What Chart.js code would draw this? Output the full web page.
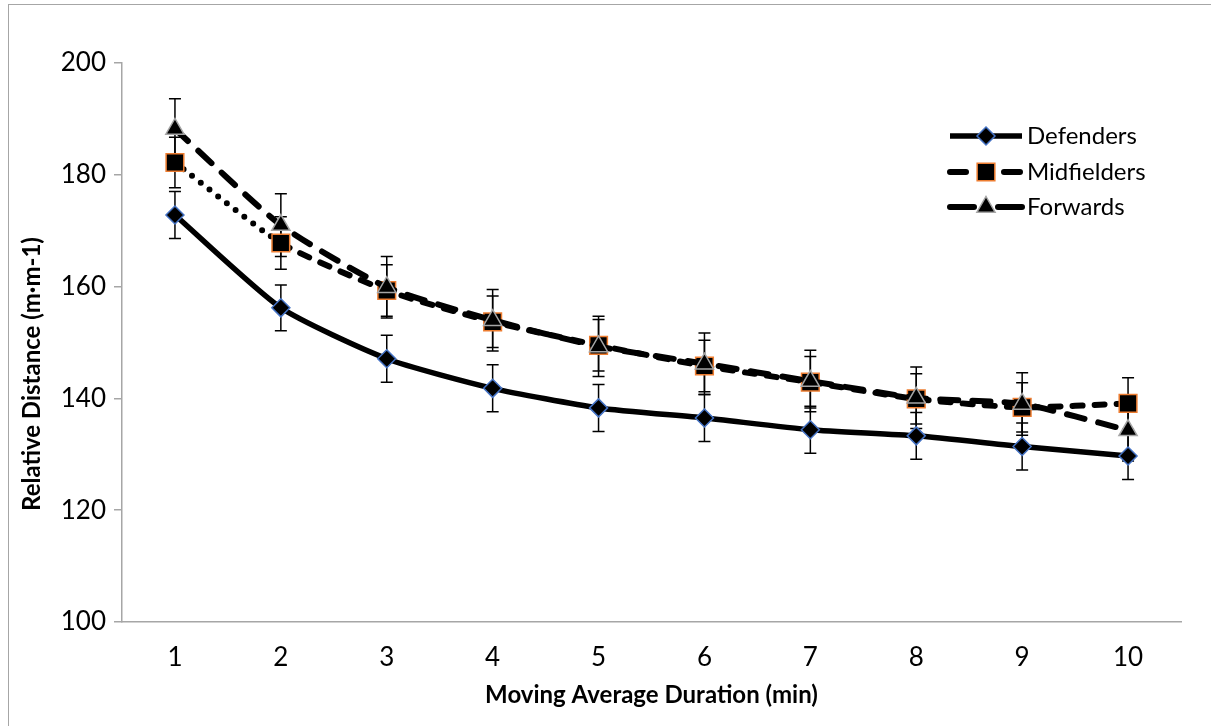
<!DOCTYPE html>
<html>
<head>
<meta charset="utf-8">
<script src="https://cdn.jsdelivr.net/npm/chart.js@4/dist/chart.umd.min.js"></script>
<style>
  body { margin: 0; background: #fff; }
  #wrap { position: relative; width: 1211px; height: 726px; overflow: hidden; }
  #frame { position: absolute; left: 8px; top: 4px; width: 1300px; height: 800px; border: 1px solid #a6a6a6; }
  canvas { position: absolute; left: 0; top: 0; }
</style>
</head>
<body>
<div id="wrap">
  <div id="frame"></div>
  <canvas id="myChart" width="1211" height="726"></canvas>
</div>
<script>
// moving average window (min)
const durations = ['1', '2', '3', '4', '5', '6', '7', '8', '9', '10'];

// relative distance, m·m-1
const defenders   = [172.8, 156.2, 147.1, 141.8, 138.3, 136.5, 134.4, 133.3, 131.4, 129.7];
const midfielders = [182.2, 167.8, 159.3, 153.7, 149.5, 145.8, 142.9, 139.9, 138.4, 139.1];
const forwards    = [188.2, 171.0, 159.9, 154.0, 149.3, 146.2, 143.1, 140.1, 139.0, 134.3];

// +/- error
const defendersErr   = [4.2, 4.1, 4.2, 4.2, 4.2, 4.2, 4.2, 4.2, 4.2, 4.2];
const midfieldersErr = [4.5, 4.7, 4.6, 4.6, 4.6, 4.6, 4.6, 4.5, 4.4, 4.6];
const forwardsErr    = [5.4, 5.6, 5.5, 5.5, 5.4, 5.5, 5.5, 5.5, 5.6, 5.5];

const yTicks = [100, 120, 140, 160, 180, 200];
const yTitle = 'Relative Distance (m·m-1)';

const FONT = 'Lato, "Open Sans", sans-serif';

function drawMarker(ctx, style, x, y, r, fill, stroke, bw) {
  ctx.save();
  ctx.setLineDash([]);
  ctx.beginPath();
  if (style === 'rectRot') {
    ctx.moveTo(x, y - r); ctx.lineTo(x + r, y); ctx.lineTo(x, y + r); ctx.lineTo(x - r, y);
  } else if (style === 'rect') {
    const s = Math.SQRT1_2 * r;
    ctx.rect(x - s, y - s, 2 * s, 2 * s);
  } else {
    ctx.moveTo(x, y - r);
    ctx.lineTo(x + r * 0.866, y + r * 0.5);
    ctx.lineTo(x - r * 0.866, y + r * 0.5);
  }
  ctx.closePath();
  ctx.fillStyle = fill; ctx.fill();
  ctx.lineWidth = bw; ctx.strokeStyle = stroke; ctx.stroke();
  ctx.restore();
}

const errorBars = {
  id: 'errorBars',
  beforeDatasetsDraw(chart) {
    const ctx = chart.ctx;
    const y = chart.scales.y;
    chart.data.datasets.forEach((ds, i) => {
      const meta = chart.getDatasetMeta(i);
      ctx.save();
      ctx.strokeStyle = '#000';
      ctx.lineWidth = 1.5;
      meta.data.forEach((pt, j) => {
        const v = ds.data[j], e = ds.errors[j];
        const top = y.getPixelForValue(v + e), bot = y.getPixelForValue(v - e);
        ctx.beginPath();
        ctx.moveTo(pt.x, top); ctx.lineTo(pt.x, bot);
        ctx.moveTo(pt.x - 6, top); ctx.lineTo(pt.x + 6, top);
        ctx.moveTo(pt.x - 6, bot); ctx.lineTo(pt.x + 6, bot);
        ctx.stroke();
      });
      ctx.restore();
    });
  }
};

// Excel puts the y title a bit below the middle, so draw it by hand
const sideTitle = {
  id: 'sideTitle',
  afterDraw(chart) {
    const ctx = chart.ctx;
    ctx.save();
    ctx.translate(32, 374);
    ctx.rotate(-Math.PI / 2);
    ctx.fillStyle = '#000';
    ctx.font = 'bold 24px ' + FONT;
    ctx.textAlign = 'center';
    ctx.textBaseline = 'middle';
    ctx.fillText(yTitle, 0, 0);
    ctx.restore();
  }
};

const lineLegend = {
  id: 'lineLegend',
  afterDraw(chart) {
    const ctx = chart.ctx;
    const x0 = 950, x1 = 1022, tx = 1027;
    const rows = [136, 172, 207];
    chart.data.datasets.forEach((ds, i) => {
      const yy = rows[i];
      ctx.save();
      ctx.strokeStyle = '#000';
      ctx.lineWidth = ds.borderWidth;
      ctx.lineCap = ds.legendCap;
      ctx.setLineDash(ds.legendDash);
      ctx.beginPath();
      ctx.moveTo(x0, yy); ctx.lineTo(x1, yy);
      ctx.stroke();
      ctx.restore();
      drawMarker(ctx, ds.pointStyle, (x0 + x1) / 2, yy, ds.pointRadius, ds.pointBackgroundColor, ds.pointBorderColor, ds.pointBorderWidth);
      ctx.save();
      ctx.fillStyle = '#000';
      ctx.font = '24px ' + FONT;
      ctx.textBaseline = 'middle';
      ctx.fillText(ds.label, tx, yy);
      ctx.restore();
    });
  }
};

const ctx = document.getElementById('myChart').getContext('2d');
new Chart(ctx, {
  type: 'line',
  data: {
    labels: durations,
    datasets: [
      {
        label: 'Defenders',
        data: defenders,
        errors: defendersErr,
        order: 3,
        borderColor: '#000',
        borderWidth: 5.5,
        borderCapStyle: 'round',
        legendCap: 'butt',
        legendDash: [],
        pointStyle: 'rectRot',
        pointRadius: 9,
        pointBackgroundColor: '#000',
        pointBorderColor: '#4472c4',
        pointBorderWidth: 1.5,
        tension: 0.2,
      },
      {
        label: 'Midfielders',
        data: midfielders,
        errors: midfieldersErr,
        order: 2,
        borderColor: '#000',
        borderWidth: 6,
        borderCapStyle: 'round',
        borderDash: [10, 12],
        legendCap: 'round',
        legendDash: [16, 38],
        segment: {
          borderDash: c => c.p0DataIndex === 0 ? [0, 11] : [10, 12],
        },
        pointStyle: 'rect',
        pointRadius: 12.5,
        pointBackgroundColor: '#000',
        pointBorderColor: '#ed7d31',
        pointBorderWidth: 1.5,
        tension: 0.2,
      },
      {
        label: 'Forwards',
        data: forwards,
        errors: forwardsErr,
        order: 1,
        borderColor: '#000',
        borderWidth: 6,
        borderCapStyle: 'round',
        borderDash: [18, 14],
        legendCap: 'round',
        legendDash: [24, 24],
        pointStyle: 'triangle',
        pointRadius: 10.5,
        pointBackgroundColor: '#000',
        pointBorderColor: '#a5a5a5',
        pointBorderWidth: 1.5,
        tension: 0.2,
      },
    ],
  },
  options: {
    responsive: false,
    animation: false,
    layout: { padding: { left: 10, top: 63, right: 30, bottom: 0 } },
    plugins: {
      legend: { display: false },
      tooltip: { enabled: false },
    },
    scales: {
      x: {
        type: 'category',
        offset: true,
        grid: { display: false, drawTicks: false },
        border: { display: true, color: '#a6a6a6', width: 1.5 },
        ticks: { color: '#000', font: { family: FONT, size: 26 }, padding: 20 },
        title: {
          display: true,
          text: 'Moving Average Duration (min)',
          color: '#000',
          font: { family: FONT, size: 24, weight: 'bold' },
          padding: { top: 4, bottom: 16 },
        },
        afterFit: s => { s.height = 104; },
      },
      y: {
        min: 100,
        max: 200,
        afterBuildTicks: s => { s.ticks = yTicks.map(v => ({ value: v })); },
        grid: { drawOnChartArea: false, color: '#a6a6a6', tickLength: 8, lineWidth: 1.5 },
        border: { display: true, color: '#a6a6a6', width: 1.5 },
        ticks: { color: '#000', font: { family: FONT, size: 26 }, padding: 8 },
        afterFit: s => { s.width = 112; },
      },
    },
  },
  plugins: [errorBars, sideTitle, lineLegend],
});
</script>
</body>
</html>
